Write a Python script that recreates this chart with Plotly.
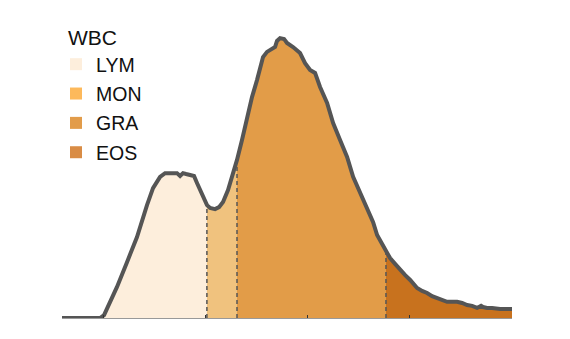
import numpy as np
import plotly.graph_objects as go

# WBC scattergram histogram (channel vs. relative count)
channel = [-41, -3.7, 0.2, 6.1, 12.9, 22.7, 32.5, 42.3, 48.2, 55.1, 60.0, 66.8, 71.7, 74.7,
           77.6, 80.6, 84.5, 88.4, 91.3, 97.2, 101.1, 104.1, 109.0, 112.9, 116.8, 121.7,
           124.7, 127.6, 130.5, 135.4, 140.3, 145.2, 150.1, 153.1, 156.0, 159.9, 162.9,
           167.8, 169.7, 172.7, 176.6, 179.5, 185.4, 192.3, 197.2, 202.1, 207.0, 211.9,
           218.8, 224.7, 231.5, 238.4, 244.3, 251.2, 258.0, 263.9, 267.8, 272.7, 276.6,
           280.5, 285.4, 290.4, 295.3, 300.2, 304.1, 307.0, 311.9, 316.8, 321.7, 326.6,
           331.5, 336.4, 341.3, 346.2, 351.1, 356.0, 360.9, 365.8, 369.7, 371.6, 375.6,
           380.5, 388.3, 400.0]
count = [0, 0, 1.0, 5.6, 10.8, 19.4, 28.1, 39.2, 45.1, 49.0, 50.3, 50.3, 50.3, 49.3,
         50.3, 50.0, 49.7, 49.3, 46.9, 42.0, 39.2, 38.2, 37.8, 38.5, 40.3, 44.4,
         47.9, 51.4, 54.9, 61.8, 69.8, 76.7, 82.6, 87.2, 90.6, 92.4, 93.1,
         94.1, 96.2, 97.2, 96.9, 95.5, 94.1, 92.0, 88.5, 86.1, 85.1, 80.2,
         74.7, 67.7, 61.8, 55.9, 49.0, 43.4, 38.5, 33.3, 28.8, 25.7, 23.6,
         20.8, 18.8, 16.7, 14.9, 13.2, 11.5, 10.4, 9.4, 8.7, 7.6, 6.9,
         6.3, 5.6, 5.6, 5.6, 5.2, 4.5, 4.2, 3.5, 4.2, 3.8, 3.5,
         3.5, 3.1, 3.1]

populations = ["LYM", "MON", "GRA", "EOS"]
gate_edges = [0.2, 101.0, 130.5, 276.5, 400.0]
fill_colors = ["#fdeedc", "#f0c27e", "#e29c48", "#c8721e"]
legend_colors = ["#fdeedc", "#fdb95b", "#e29c4a", "#d98c45"]
tick_values = [0, 100, 200, 300, 400]

x = np.array(channel, dtype=float)
y = np.array(count, dtype=float)

fig = go.Figure()

# filled population regions, split at the gate edges
for i, name in enumerate(populations):
    lo, hi = gate_edges[i], gate_edges[i + 1]
    inside = (x > lo) & (x < hi)
    sx = np.concatenate([[lo], x[inside], [hi]])
    sy = np.concatenate([[np.interp(lo, x, y)], y[inside], [np.interp(hi, x, y)]])
    fig.add_trace(go.Scatter(x=sx, y=sy, mode="lines", fill="tozeroy",
                             fillcolor=fill_colors[i], line=dict(width=0),
                             showlegend=False, hoverinfo="skip"))

# dashed gate separators
for edge in gate_edges[1:-1]:
    fig.add_trace(go.Scatter(x=[edge, edge], y=[0, np.interp(edge, x, y)], mode="lines",
                             line=dict(color="#555555", width=1.5, dash="4px,3px"),
                             showlegend=False, hoverinfo="skip"))

# histogram outline
fig.add_trace(go.Scatter(x=x, y=y, mode="lines",
                         line=dict(color="#555555", width=4, shape="linear"),
                         showlegend=False, hoverinfo="skip"))

# legend entries
for i, name in enumerate(populations):
    fig.add_trace(go.Scatter(x=[None], y=[None], mode="markers", name=name,
                             legendgroup=name,
                             marker=dict(symbol="square", size=12, color=legend_colors[i])))

fig.add_annotation(text="WBC", xref="paper", yref="paper", x=(66 - 62) / 450, y=1 + (30 - 37) / 288,
                   xanchor="left", yanchor="middle", showarrow=False,
                   font=dict(size=21, color="#111111"))

fig.update_layout(
    width=570, height=339,
    margin=dict(l=62, r=58, t=30, b=21, autoexpand=False),
    paper_bgcolor="white", plot_bgcolor="white",
    font=dict(family="Liberation Sans, Arial, sans-serif", size=19.5, color="#111111"),
    showlegend=True,
    legend=dict(xref="container", yref="container", x=56 / 570, y=1 - 45 / 339,
                xanchor="left", yanchor="top", bgcolor="rgba(0,0,0,0)",
                tracegroupgap=1, itemsizing="trace"),
    xaxis=dict(range=[-41, 400], showgrid=False, zeroline=False, showline=True,
               linecolor="#999999", linewidth=1, ticks="inside", ticklen=3,
               tickcolor="#333333", tickvals=tick_values, showticklabels=False),
    yaxis=dict(range=[0, 100], visible=False),
)

fig.write_html("out.html")
